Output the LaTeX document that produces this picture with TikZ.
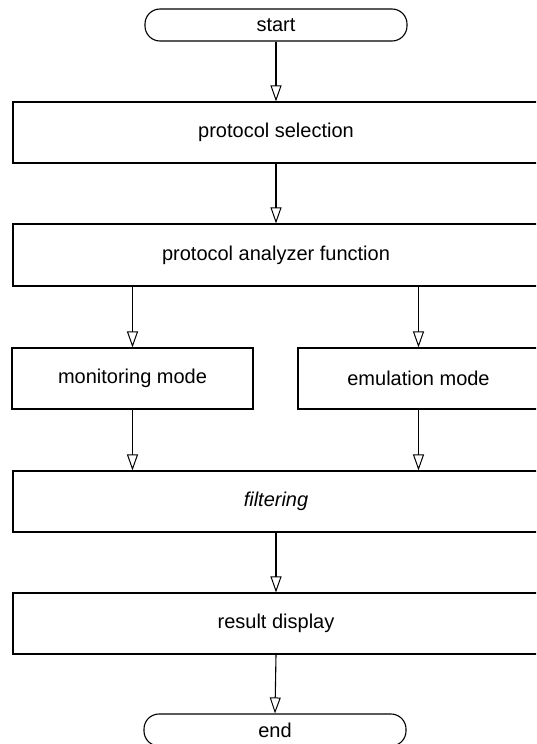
\documentclass[tikz,border=0pt]{standalone}
\usepackage{fontspec}
\setmainfont{Liberation Sans}
\usetikzlibrary{arrows.meta}
\tikzset{
  box/.style={draw, line width=1.1pt, rectangle, minimum width=526pt, minimum height=61pt, inner sep=0pt, font=\fontsize{20}{24}\selectfont},
  halfbox/.style={box, minimum width=241pt},
  term/.style={draw, line width=1.1pt, rectangle, rounded corners=15pt, minimum width=262pt, minimum height=32pt, inner sep=0pt, font=\fontsize{20}{24}\selectfont},
  flow/.style={line width=1.1pt, -{Triangle[open, length=16pt, width=11pt, line width=1pt]}}
}
\begin{document}
\begin{tikzpicture}[x=1pt,y=-1pt]
\useasboundingbox (0,0) rectangle (536,744);
\clip (0,0) rectangle (536,744);
\node[term] (start) at (276,25) {start};
\node[box] (sel) at (276,132.5) {protocol selection};
\node[box, minimum height=62pt] (ana) at (276,255) {protocol analyzer function};
\node[halfbox] (mon) at (132.5,378.5) {monitoring mode};
\node[halfbox] (emu) at (418.5,378.5) {emulation mode};
\node[box] (fil) at (276,501.5) {\textit{filtering}};
\node[box] (res) at (276,623.5) {result display};
\node[term] (end) at (275,730) {end};
\draw[flow] (start.south) -- (sel.north);
\draw[flow] (sel.south) -- (ana.north);
\draw[flow] (ana.south -| mon.north) -- (mon.north);
\draw[flow] (ana.south -| emu.north) -- (emu.north);
\draw[flow] (mon.south) -- (fil.north -| mon.south);
\draw[flow] (emu.south) -- (fil.north -| emu.south);
\draw[flow] (fil.south) -- (res.north);
\draw[flow] (res.south) -- (end.north);
\end{tikzpicture}
\end{document}
